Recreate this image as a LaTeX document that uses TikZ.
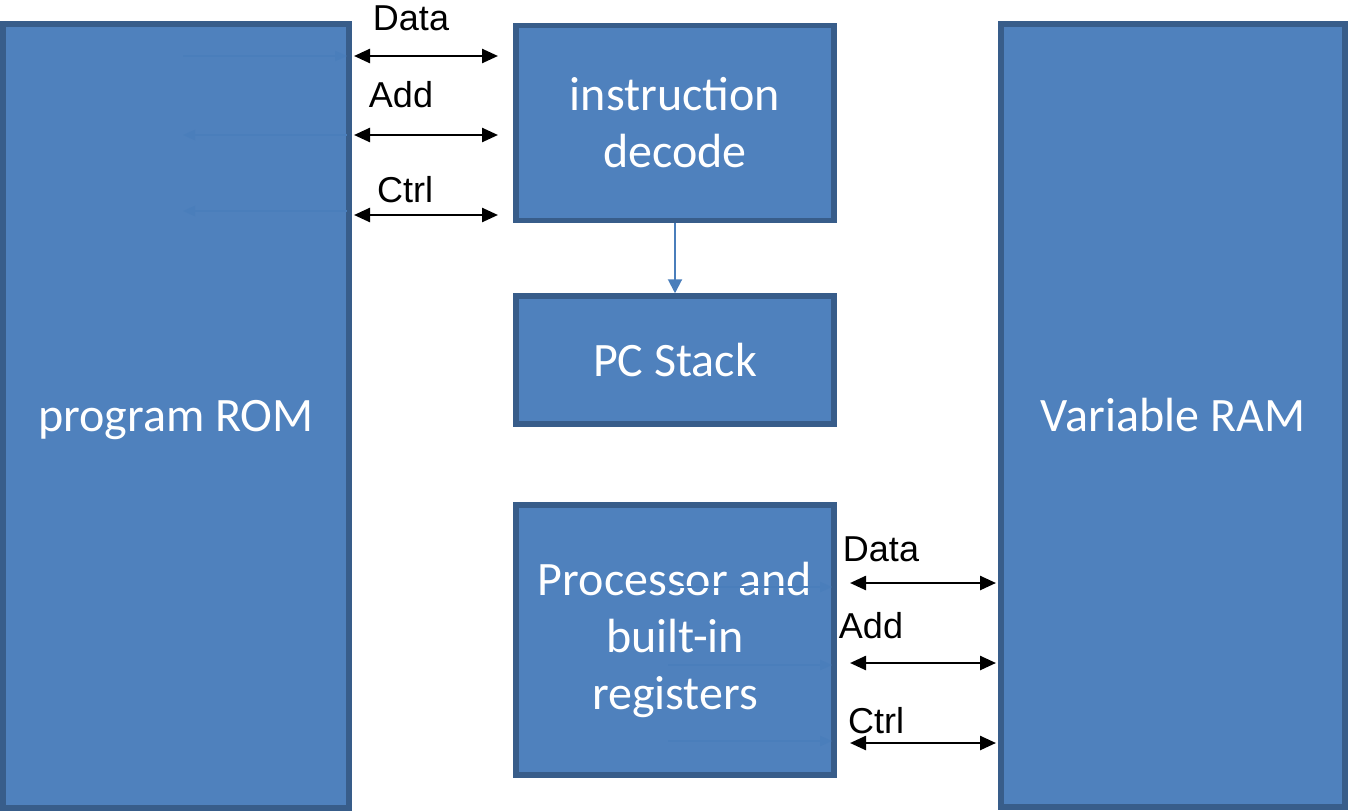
\documentclass[tikz,border=0pt]{standalone}
\usepackage{fontspec}
\setmainfont{Carlito}
\newfontfamily\arialfont{Liberation Sans}
\usetikzlibrary{arrows.meta}
\definecolor{boxfill}{HTML}{4F81BD}
\definecolor{boxline}{HTML}{385D8A}
\definecolor{faint}{HTML}{4A7EBB}
\tikzset{
  blk/.style={draw=boxline, fill=boxfill, line width=5.5pt, text=white,
    font=\fontsize{48}{57}\selectfont, align=center, inner sep=0pt},
  bus/.style={line width=2.5pt, black, {Triangle[length=16pt,width=14pt]}-{Triangle[length=16pt,width=14pt]}},
  ghost/.style={line width=2pt, faint, -{Triangle[length=12pt,width=10pt]}},
  lbl/.style={font=\arialfont\fontsize{36}{40}\selectfont, inner sep=0pt},
}
\begin{document}
\begin{tikzpicture}[x=1pt,y=-1pt]
\useasboundingbox (0,0) rectangle (1348,811);
% boxes
\node[blk, text depth=0pt, minimum width=346pt, minimum height=784pt] (rom) at (176,416) {program ROM};
\node[blk, minimum width=344pt, minimum height=783pt] (ram) at (1173,415.5) {Variable RAM};
\node[blk, minimum width=318pt, minimum height=195pt] (dec) at (675,123) {instruction\\decode};
\node[blk, minimum width=318pt, minimum height=128pt] (pc) at (675,360) {PC Stack};
\node[blk, minimum width=318pt, minimum height=270pt] (proc) at (675,640) {Processor and\\built-in\\registers};
% coordinates
\coordinate (r1) at (183,56); \coordinate (r1e) at (347,56);
\coordinate (r2) at (183,135); \coordinate (r2e) at (347,135);
\coordinate (r3) at (183,211); \coordinate (r3e) at (347,211);
\coordinate (p1) at (668,587); \coordinate (p1e) at (832,587);
\coordinate (p2) at (668,665); \coordinate (p2e) at (832,665);
\coordinate (p3) at (668,741); \coordinate (p3e) at (832,741);
\coordinate (a1) at (354,56); \coordinate (b1) at (498,56);
\coordinate (a2) at (354,135); \coordinate (b2) at (498,135);
\coordinate (a3) at (354,215); \coordinate (b3) at (498,215);
\coordinate (c1) at (850,583); \coordinate (d1) at (996,583);
\coordinate (c2) at (850,663); \coordinate (d2) at (996,663);
\coordinate (c3) at (850,743); \coordinate (d3) at (996,743);
% faint arrows inside boxes
\draw[ghost] (r1) -- (r1e);
\draw[ghost] (r2e) -- (r2);
\draw[ghost] (r3e) -- (r3);
\draw[ghost] (p1) -- (p1e);
\draw[ghost] (p2) -- (p2e);
\draw[ghost] (p3) -- (p3e);
% decode -> pc
\draw[line width=2pt, faint, -{Triangle[length=14pt,width=14pt]}] (dec.south) -- (pc.north);
% buses
\draw[bus] (a1) -- (b1);
\draw[bus] (a2) -- (b2);
\draw[bus] (a3) -- (b3);
\draw[bus] (c1) -- (d1);
\draw[bus] (c2) -- (d2);
\draw[bus] (c3) -- (d3);
% labels
\node[lbl] (l1) at (411,18) {Data};
\node[lbl] (l2) at (401,95) {Add};
\node[lbl] (l3) at (405,190) {Ctrl};
\node[lbl] (l4) at (881,549) {Data};
\node[lbl] (l5) at (871,626) {Add};
\node[lbl] (l6) at (876,721) {Ctrl};
\end{tikzpicture}
\end{document}
